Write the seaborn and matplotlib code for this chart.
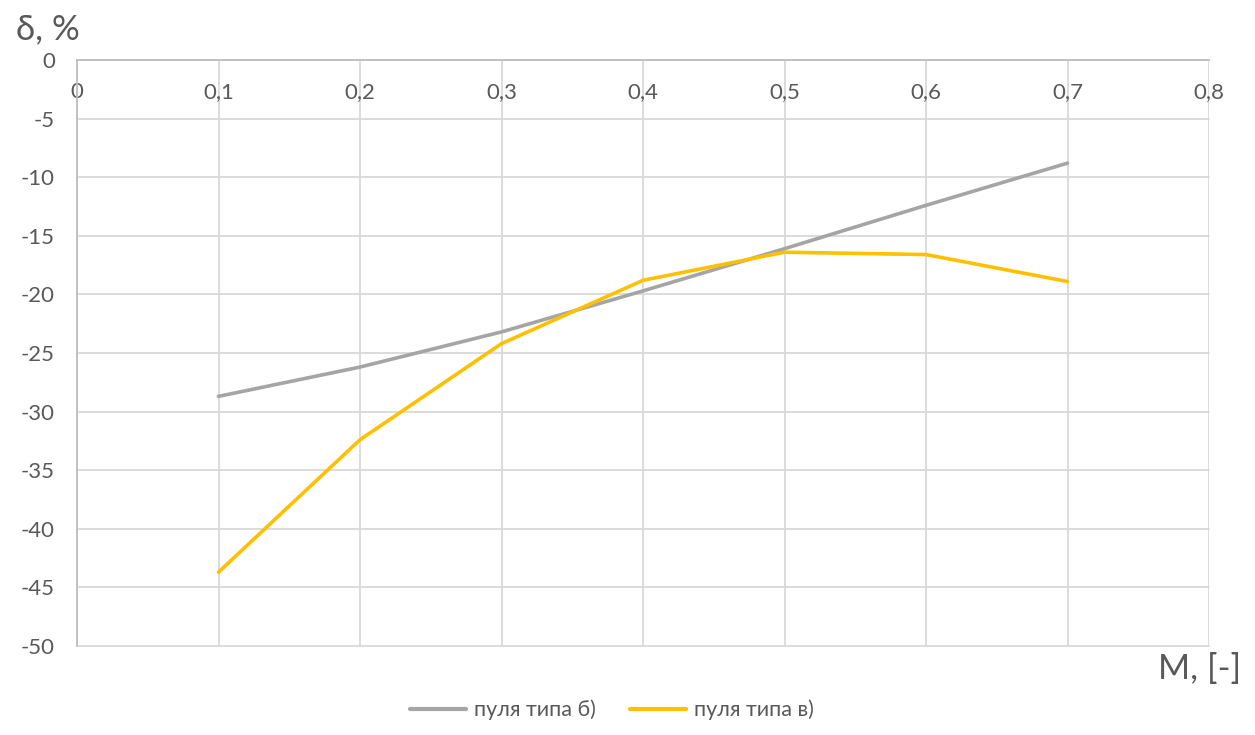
import matplotlib.pyplot as plt
import matplotlib.ticker as mticker
import pandas as pd
import seaborn as sns

# Values
mach = [0.1, 0.2, 0.3, 0.4, 0.5, 0.6, 0.7]
delta_b = [-28.7, -26.2, -23.2, -19.7, -16.1, -12.4, -8.8]
delta_v = [-43.7, -32.4, -24.2, -18.8, -16.4, -16.6, -18.9]
series_names = ["пуля типа б)", "пуля типа в)"]
series_colors = ["#A5A5A5", "#FFC000"]

x_ticks = [0, 0.1, 0.2, 0.3, 0.4, 0.5, 0.6, 0.7, 0.8]
y_ticks = [0, -5, -10, -15, -20, -25, -30, -35, -40, -45, -50]

df = pd.DataFrame({
    "M": mach * 2,
    "delta": delta_b + delta_v,
    "series": [series_names[0]] * len(mach) + [series_names[1]] * len(mach),
})

sns.set_theme(style="whitegrid")
plt.rcParams["font.family"] = ["Lato", "DejaVu Sans"]
plt.rcParams["axes.unicode_minus"] = False

text_col = "#595959"

fig = plt.figure(figsize=(12.55, 7.35), dpi=100)
ax = fig.add_axes([77 / 1255, 1 - 646 / 735, 1132 / 1255, 586 / 735])

sns.lineplot(
    data=df, x="M", y="delta", hue="series",
    palette=dict(zip(series_names, series_colors)),
    linewidth=2.6, ax=ax, legend=False,
)

ax.set_xlim(0, 0.8)
ax.set_ylim(-50, 0)
ax.set_xticks(x_ticks)
ax.set_yticks(y_ticks)
ax.xaxis.set_major_formatter(mticker.FuncFormatter(
    lambda v, _: ("%g" % round(v, 2)).replace(".", ",")))
ax.yaxis.set_major_formatter(mticker.FuncFormatter(lambda v, _: "%d" % v))

ax.grid(True, color="#D9D9D9", linewidth=1.3)
for gl in ax.get_xgridlines() + ax.get_ygridlines():
    gl.set_clip_on(False)
ax.set_facecolor("white")

# x axis crosses at y = 0 (top of the plot), labels below it
ax.spines["bottom"].set_position(("data", 0))
ax.spines["bottom"].set_color("#BFBFBF")
ax.spines["bottom"].set_linewidth(1.3)
ax.spines["left"].set_color("#BFBFBF")
ax.spines["left"].set_linewidth(1.3)
ax.spines["top"].set_visible(False)
ax.spines["right"].set_visible(False)

ax.tick_params(axis="x", length=0, pad=16, labelsize=16, labelcolor=text_col)
ax.tick_params(axis="y", length=0, pad=16, labelsize=16, labelcolor=text_col)

ax.set_xlabel("M, [-]", fontsize=25, color=text_col, ha="right", va="center")
ax.xaxis.set_label_coords(1.028, -0.040)
ax.set_ylabel("δ, %", fontsize=25, color=text_col, rotation=0, ha="left", va="center")
ax.yaxis.set_label_coords(-0.054, 1.052)

handles = [plt.Line2D([], [], color=c, linewidth=3) for c in series_colors]
fig.legend(handles, series_names, loc="center", bbox_to_anchor=(612 / 1255, 1 - 710 / 735),
           ncol=2, frameon=False, fontsize=15.5, labelcolor=text_col,
           handlelength=2.6, columnspacing=1.6, handletextpad=0.35)

fig.savefig("out.png", dpi=100)
